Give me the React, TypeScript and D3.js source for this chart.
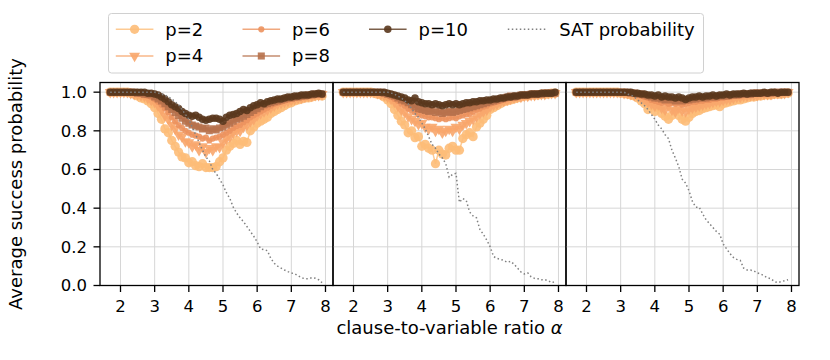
import React from "react";
import * as d3 from "d3";

const alpha = [
  1.7, 1.8, 1.9, 2.0, 2.1, 2.2, 2.3, 2.4, 2.5, 2.6, 2.7, 2.8, 2.9,
  3.0, 3.1, 3.2, 3.3, 3.4, 3.5, 3.6, 3.7, 3.8, 3.9,
  4.0, 4.1, 4.2, 4.3, 4.4, 4.5, 4.6, 4.7, 4.8, 4.9,
  5.0, 5.1, 5.2, 5.3, 5.4, 5.5, 5.6, 5.7, 5.8, 5.9,
  6.0, 6.1, 6.2, 6.3, 6.4, 6.5, 6.6, 6.7, 6.8, 6.9,
  7.0, 7.1, 7.2, 7.3, 7.4, 7.5, 7.6, 7.7, 7.8, 7.9,
];

const xTicks = [2, 3, 4, 5, 6, 7, 8];
const yTicks = [0, 0.2, 0.4, 0.6, 0.8, 1.0];
const seriesNames = ["p=2", "p=4", "p=6", "p=8", "p=10"];

// panel 1
const a_p2 = [1, 1, 1, 1, 1, 1, 0.995, 0.99, 0.98, 0.97, 0.965, 0.955, 0.94, 0.92, 0.89, 0.86, 0.81, 0.79, 0.75, 0.72, 0.69, 0.665, 0.66, 0.635, 0.64, 0.62, 0.615, 0.63, 0.61, 0.61, 0.61, 0.615, 0.64, 0.66, 0.7, 0.72, 0.735, 0.75, 0.73, 0.745, 0.74, 0.8, 0.82, 0.84, 0.85, 0.86, 0.87, 0.89, 0.9, 0.91, 0.92, 0.93, 0.94, 0.945, 0.955, 0.96, 0.965, 0.97, 0.97, 0.975, 0.98, 0.985, 0.98];
const a_p4 = [1, 1, 1, 1, 1, 1, 0.995, 0.99, 0.99, 0.985, 0.98, 0.97, 0.96, 0.95, 0.93, 0.91, 0.88, 0.86, 0.83, 0.81, 0.78, 0.77, 0.745, 0.74, 0.72, 0.73, 0.7, 0.72, 0.69, 0.71, 0.7, 0.72, 0.715, 0.74, 0.76, 0.77, 0.79, 0.8, 0.8, 0.82, 0.83, 0.85, 0.86, 0.88, 0.89, 0.9, 0.91, 0.92, 0.93, 0.94, 0.945, 0.95, 0.955, 0.96, 0.965, 0.97, 0.97, 0.975, 0.98, 0.98, 0.985, 0.985, 0.99];
const a_p6 = [1, 1, 1, 1, 1, 1, 1, 0.995, 0.995, 0.99, 0.985, 0.98, 0.975, 0.965, 0.95, 0.935, 0.915, 0.895, 0.87, 0.85, 0.83, 0.815, 0.8, 0.79, 0.78, 0.775, 0.77, 0.76, 0.765, 0.75, 0.76, 0.765, 0.77, 0.78, 0.79, 0.8, 0.815, 0.825, 0.83, 0.845, 0.855, 0.87, 0.88, 0.89, 0.9, 0.91, 0.92, 0.93, 0.94, 0.945, 0.95, 0.955, 0.96, 0.965, 0.97, 0.975, 0.975, 0.98, 0.98, 0.985, 0.985, 0.99, 0.99];
const a_p8 = [1, 1, 1, 1, 1, 1, 1, 1, 0.995, 0.995, 0.99, 0.99, 0.985, 0.975, 0.965, 0.955, 0.94, 0.925, 0.91, 0.895, 0.88, 0.865, 0.85, 0.84, 0.83, 0.825, 0.82, 0.81, 0.815, 0.8, 0.81, 0.805, 0.815, 0.82, 0.83, 0.84, 0.85, 0.86, 0.865, 0.875, 0.885, 0.895, 0.905, 0.915, 0.925, 0.935, 0.94, 0.945, 0.95, 0.955, 0.96, 0.965, 0.97, 0.97, 0.975, 0.975, 0.98, 0.98, 0.985, 0.985, 0.99, 0.99, 0.99];
const a_p10 = [1, 1, 1, 1, 1, 1, 1, 1, 1, 1, 1, 0.995, 0.995, 0.99, 0.985, 0.975, 0.965, 0.95, 0.935, 0.925, 0.915, 0.9, 0.89, 0.88, 0.875, 0.88, 0.87, 0.86, 0.855, 0.86, 0.865, 0.865, 0.86, 0.85, 0.87, 0.88, 0.885, 0.89, 0.9, 0.91, 0.905, 0.92, 0.93, 0.935, 0.945, 0.94, 0.95, 0.955, 0.96, 0.965, 0.965, 0.97, 0.975, 0.975, 0.98, 0.98, 0.985, 0.985, 0.985, 0.99, 0.99, 0.995, 0.99];
const a_sat = [1, 1, 1, 1, 1, 1, 1, 1, 1, 1, 1, 1, 1, 1, 0.995, 0.99, 0.985, 0.975, 0.965, 0.95, 0.935, 0.91, 0.885, 0.86, 0.82, 0.78, 0.74, 0.7, 0.665, 0.645, 0.6, 0.58, 0.55, 0.52, 0.48, 0.45, 0.405, 0.375, 0.35, 0.33, 0.305, 0.28, 0.255, 0.225, 0.19, 0.185, 0.18, 0.14, 0.115, 0.1, 0.09, 0.08, 0.072, 0.065, 0.06, 0.05, 0.04, 0.035, 0.035, 0.04, 0.038, 0.03, 0.015];

// panel 2
const b_p2 = [1, 1, 1, 1, 1, 1, 1, 1, 1, 0.995, 0.99, 0.985, 0.975, 0.96, 0.94, 0.91, 0.88, 0.85, 0.83, 0.79, 0.8, 0.765, 0.77, 0.72, 0.73, 0.71, 0.7, 0.63, 0.7, 0.68, 0.675, 0.71, 0.72, 0.7, 0.7, 0.76, 0.78, 0.79, 0.77, 0.82, 0.84, 0.86, 0.88, 0.91, 0.92, 0.93, 0.94, 0.95, 0.955, 0.96, 0.965, 0.97, 0.975, 0.98, 0.98, 0.985, 0.985, 0.985, 0.99, 0.99, 0.99, 0.995, 0.995];
const b_p4 = [1, 1, 1, 1, 1, 1, 1, 1, 1, 1, 0.995, 0.99, 0.985, 0.975, 0.965, 0.95, 0.93, 0.91, 0.895, 0.875, 0.86, 0.85, 0.835, 0.84, 0.82, 0.81, 0.82, 0.8, 0.81, 0.79, 0.8, 0.81, 0.8, 0.82, 0.81, 0.83, 0.84, 0.85, 0.86, 0.875, 0.89, 0.9, 0.91, 0.925, 0.935, 0.94, 0.95, 0.955, 0.96, 0.965, 0.97, 0.975, 0.975, 0.98, 0.98, 0.985, 0.985, 0.99, 0.99, 0.99, 0.995, 0.995, 0.995];
const b_p6 = [1, 1, 1, 1, 1, 1, 1, 1, 1, 1, 1, 0.995, 0.99, 0.985, 0.975, 0.965, 0.955, 0.94, 0.93, 0.915, 0.905, 0.895, 0.885, 0.88, 0.875, 0.87, 0.87, 0.865, 0.86, 0.865, 0.86, 0.865, 0.87, 0.865, 0.875, 0.88, 0.885, 0.89, 0.9, 0.91, 0.915, 0.925, 0.93, 0.94, 0.945, 0.95, 0.955, 0.96, 0.965, 0.97, 0.97, 0.975, 0.98, 0.98, 0.985, 0.985, 0.985, 0.99, 0.99, 0.99, 0.995, 0.995, 0.995];
const b_p8 = [1, 1, 1, 1, 1, 1, 1, 1, 1, 1, 1, 1, 0.995, 0.99, 0.985, 0.98, 0.97, 0.96, 0.955, 0.945, 0.935, 0.925, 0.915, 0.91, 0.905, 0.9, 0.905, 0.895, 0.9, 0.89, 0.895, 0.9, 0.895, 0.9, 0.905, 0.91, 0.915, 0.92, 0.925, 0.93, 0.935, 0.94, 0.945, 0.95, 0.955, 0.96, 0.965, 0.97, 0.975, 0.98, 0.975, 0.98, 0.985, 0.985, 0.985, 0.99, 0.99, 0.99, 0.99, 0.995, 0.995, 0.995, 0.995];
const b_p10 = [1, 1, 1, 1, 1, 1, 1, 1, 1, 1, 1, 1, 1, 0.995, 0.99, 0.985, 0.98, 0.975, 0.97, 0.96, 0.955, 0.97, 0.95, 0.945, 0.94, 0.94, 0.935, 0.94, 0.935, 0.93, 0.935, 0.94, 0.935, 0.94, 0.935, 0.94, 0.945, 0.945, 0.95, 0.95, 0.955, 0.955, 0.96, 0.96, 0.965, 0.965, 0.97, 0.97, 0.975, 0.975, 0.98, 0.98, 0.985, 0.985, 0.985, 0.99, 0.99, 0.99, 0.995, 0.995, 0.995, 0.995, 1];
const b_sat = [1, 1, 1, 1, 1, 1, 1, 1, 1, 1, 1, 1, 1, 1, 0.995, 0.99, 0.98, 0.97, 0.955, 0.94, 0.915, 0.89, 0.87, 0.84, 0.81, 0.77, 0.73, 0.71, 0.68, 0.66, 0.63, 0.56, 0.575, 0.58, 0.43, 0.45, 0.44, 0.38, 0.36, 0.35, 0.29, 0.265, 0.235, 0.2, 0.15, 0.14, 0.135, 0.13, 0.12, 0.125, 0.11, 0.09, 0.07, 0.06, 0.065, 0.045, 0.037, 0.035, 0.03, 0.03, 0.025, 0.015, 0.02];

// panel 3
const c_p2 = [1, 1, 1, 1, 1, 1, 1, 1, 1, 1, 1, 1, 1, 0.995, 0.995, 0.99, 0.985, 0.98, 0.97, 0.955, 0.94, 0.91, 0.93, 0.9, 0.92, 0.89, 0.875, 0.86, 0.88, 0.9, 0.88, 0.86, 0.85, 0.87, 0.89, 0.9, 0.905, 0.915, 0.92, 0.925, 0.93, 0.935, 0.925, 0.94, 0.945, 0.95, 0.955, 0.96, 0.96, 0.965, 0.97, 0.975, 0.975, 0.98, 0.98, 0.985, 0.985, 0.985, 0.99, 0.99, 0.99, 0.995, 0.995];
const c_p4 = [1, 1, 1, 1, 1, 1, 1, 1, 1, 1, 1, 1, 1, 1, 0.995, 0.995, 0.99, 0.985, 0.98, 0.97, 0.96, 0.95, 0.94, 0.93, 0.935, 0.92, 0.91, 0.93, 0.91, 0.9, 0.92, 0.905, 0.9, 0.915, 0.92, 0.925, 0.93, 0.935, 0.94, 0.945, 0.95, 0.955, 0.955, 0.96, 0.965, 0.965, 0.97, 0.975, 0.975, 0.98, 0.98, 0.985, 0.985, 0.985, 0.99, 0.99, 0.99, 0.99, 0.995, 0.995, 0.995, 0.995, 1];
const c_p6 = [1, 1, 1, 1, 1, 1, 1, 1, 1, 1, 1, 1, 1, 1, 1, 0.995, 0.995, 0.99, 0.985, 0.98, 0.975, 0.97, 0.96, 0.955, 0.95, 0.945, 0.95, 0.94, 0.945, 0.94, 0.945, 0.935, 0.94, 0.945, 0.95, 0.95, 0.955, 0.955, 0.96, 0.96, 0.965, 0.965, 0.97, 0.97, 0.975, 0.975, 0.98, 0.98, 0.98, 0.985, 0.985, 0.985, 0.99, 0.99, 0.99, 0.99, 0.995, 0.995, 0.995, 0.995, 0.995, 1, 1];
const c_p8 = [1, 1, 1, 1, 1, 1, 1, 1, 1, 1, 1, 1, 1, 1, 1, 1, 0.995, 0.995, 0.99, 0.99, 0.985, 0.98, 0.975, 0.97, 0.97, 0.965, 0.96, 0.965, 0.96, 0.955, 0.96, 0.955, 0.96, 0.96, 0.965, 0.965, 0.97, 0.97, 0.97, 0.975, 0.975, 0.975, 0.98, 0.98, 0.98, 0.985, 0.985, 0.985, 0.99, 0.99, 0.99, 0.99, 0.995, 0.995, 0.995, 0.995, 0.995, 0.995, 1, 1, 1, 1, 1];
const c_p10 = [1, 1, 1, 1, 1, 1, 1, 1, 1, 1, 1, 1, 1, 1, 1, 1, 1, 0.995, 0.995, 0.99, 0.99, 0.985, 0.985, 0.98, 0.985, 0.975, 0.98, 0.975, 0.975, 0.97, 0.975, 0.97, 0.962, 0.97, 0.975, 0.975, 0.98, 0.975, 0.98, 0.98, 0.985, 0.98, 0.985, 0.985, 0.99, 0.985, 0.99, 0.99, 0.99, 0.995, 0.99, 0.995, 0.995, 0.995, 0.995, 1, 0.995, 1, 1, 0.995, 1, 1, 1];
const c_sat = [1, 1, 1, 1, 1, 1, 1, 1, 1, 1, 1, 1, 1, 1, 1, 0.99, 0.985, 0.975, 0.96, 0.945, 0.93, 0.91, 0.885, 0.86, 0.83, 0.81, 0.78, 0.76, 0.7, 0.66, 0.615, 0.55, 0.53, 0.49, 0.435, 0.405, 0.405, 0.37, 0.34, 0.32, 0.3, 0.28, 0.265, 0.215, 0.19, 0.165, 0.145, 0.135, 0.13, 0.09, 0.08, 0.08, 0.075, 0.065, 0.06, 0.05, 0.04, 0.035, 0.02, 0.015, 0.02, 0.025, 0.03];

const panels = [
  { series: [a_p2, a_p4, a_p6, a_p8, a_p10], sat: a_sat },
  { series: [b_p2, b_p4, b_p6, b_p8, b_p10], sat: b_sat },
  { series: [c_p2, c_p4, c_p6, c_p8, c_p10], sat: c_sat },
];

const colors = ["#fdbd78", "#f8a66c", "#ec925e", "#b7714b", "#5a371d"];
const FONT = "DejaVu Sans, sans-serif";

const W = 830;
const H = 360;
const panelLefts = [100, 333, 566];
const panelW = 233;
const top = 82.5;
const bottom = 285.5;

const xScale = (left: number) =>
  d3.scaleLinear().domain([1.4, 8.22]).range([left, left + panelW]);
const yScale = d3.scaleLinear().domain([0, 1.05]).range([bottom, top]);

function markerPath(i: number) {
  const sym = d3.symbol();
  if (i === 0) return sym.type(d3.symbolCircle).size(68)()!;
  if (i === 1) return sym.type(d3.symbolTriangle).size(52)()!;
  if (i === 2) return sym.type(d3.symbolCircle).size(30)()!;
  if (i === 3) return sym.type(d3.symbolSquare).size(50)()!;
  return sym.type(d3.symbolCircle).size(44)()!;
}

function Marker({ i, x, y }: { i: number; x: number; y: number }) {
  const rot = i === 1 ? ` rotate(180)` : "";
  return (
    <path
      d={markerPath(i)}
      transform={`translate(${x},${y})${rot}`}
      fill={colors[i]}
      fillOpacity={0.9}
    />
  );
}

function Panel({ idx }: { idx: number }) {
  const left = panelLefts[idx];
  const x = xScale(left);
  const p = panels[idx];
  const line = d3
    .line<number>()
    .x((_, k) => x(alpha[k]))
    .y((d) => yScale(d));
  return (
    <g>
      <defs>
        <clipPath id={`clip${idx}`}>
          <rect x={left} y={top} width={panelW} height={bottom - top} />
        </clipPath>
      </defs>
      {xTicks.map((t) => (
        <line key={"gx" + t} x1={x(t)} x2={x(t)} y1={top} y2={bottom} stroke="#d6d6d6" strokeWidth={1} />
      ))}
      {yTicks.map((t) => (
        <line key={"gy" + t} x1={left} x2={left + panelW} y1={yScale(t)} y2={yScale(t)} stroke="#d6d6d6" strokeWidth={1} />
      ))}
      <g clipPath={`url(#clip${idx})`}>
        {p.series.map((s, i) => (
          <g key={i}>
            <path d={line(s)!} fill="none" stroke={colors[i]} strokeOpacity={0.8} strokeWidth={1.5} />
            {s.map((v, k) => (
              <Marker key={k} i={i} x={x(alpha[k])} y={yScale(v)} />
            ))}
          </g>
        ))}
        <path d={line(p.sat)!} fill="none" stroke="#808080" strokeWidth={1.5} strokeDasharray="1.5,2.5" />
      </g>
      {xTicks.map((t) => (
        <g key={"tx" + t}>
          <line x1={x(t)} x2={x(t)} y1={bottom} y2={bottom + 6.5} stroke="#000" strokeWidth={1.3} />
          <text x={x(t)} y={311.5} textAnchor="middle" fontSize={16.5} fontFamily={FONT} fill="#000">
            {t}
          </text>
        </g>
      ))}
      {idx === 0 &&
        yTicks.map((t) => (
          <g key={"ty" + t}>
            <line x1={left - 6.5} x2={left} y1={yScale(t)} y2={yScale(t)} stroke="#000" strokeWidth={1.3} />
            <text x={left - 13} y={yScale(t)} dy="0.36em" textAnchor="end" fontSize={16.5} fontFamily={FONT} fill="#000">
              {d3.format(".1f")(t)}
            </text>
          </g>
        ))}
      <rect x={left} y={top} width={panelW} height={bottom - top} fill="none" stroke="#000" strokeWidth={1.3} />
    </g>
  );
}

function Legend() {
  const colX = [115.8, 242.5, 369, 507.8];
  const rowY = [29.3, 56];
  const hw = 37.6;
  const items = [
    { c: 0, r: 0, i: 0 },
    { c: 0, r: 1, i: 1 },
    { c: 1, r: 0, i: 2 },
    { c: 1, r: 1, i: 3 },
    { c: 2, r: 0, i: 4 },
  ];
  return (
    <g fontFamily={FONT} fontSize={18}>
      <rect x={108.5} y={13.5} width={595} height={59.5} rx={3} fill="#fff" fillOpacity={0.8} stroke="#d0d0d0" strokeWidth={1} />
      {items.map(({ c, r, i }) => (
        <g key={i}>
          <line x1={colX[c]} x2={colX[c] + hw} y1={rowY[r]} y2={rowY[r]} stroke={colors[i]} strokeOpacity={0.8} strokeWidth={1.5} />
          <Marker i={i} x={colX[c] + hw / 2} y={rowY[r]} />
          <text x={colX[c] + 49.5} y={rowY[r]} dy="0.36em" fill="#000">
            {seriesNames[i]}
          </text>
        </g>
      ))}
      <line x1={colX[3]} x2={colX[3] + hw} y1={rowY[0]} y2={rowY[0]} stroke="#808080" strokeWidth={1.5} strokeDasharray="1.5,2.5" />
      <text x={559.3} y={rowY[0]} dy="0.36em" fill="#000">
        SAT probability
      </text>
    </g>
  );
}

export default function App() {
  return (
    <svg width={W} height={H} style={{ display: "block", position: "absolute", left: 0, top: 0 }}>
      <rect width={W} height={H} fill="#fff" />
      {panels.map((_, i) => (
        <Panel key={i} idx={i} />
      ))}
      <Legend />
      <text
        transform={`translate(22,184) rotate(-90)`}
        textAnchor="middle"
        fontSize={18}
        fontFamily={FONT}
        fill="#000"
      >
        Average success probability
      </text>
      <text x={449.5} y={334} textAnchor="middle" fontSize={18} fontFamily={FONT} fill="#000">
        clause-to-variable ratio <tspan fontStyle="italic">α</tspan>
      </text>
    </svg>
  );
}
